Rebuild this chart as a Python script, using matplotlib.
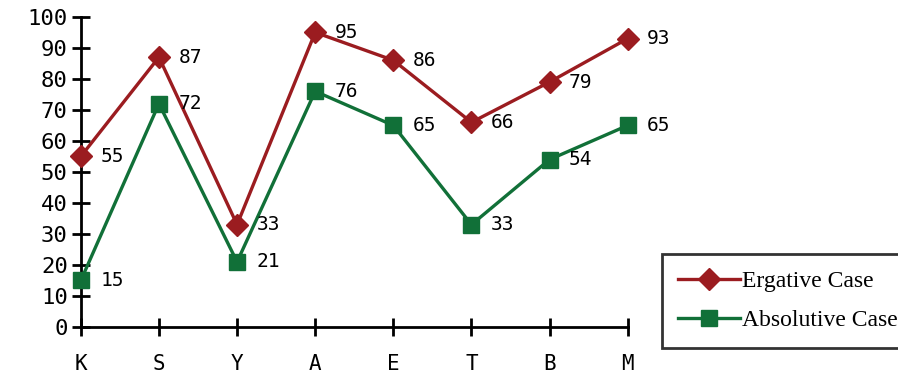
import matplotlib
matplotlib.use('Agg')
import matplotlib.pyplot as plt

# data
letters = ['K', 'S', 'Y', 'A', 'E', 'T', 'B', 'M']
ergative = [55, 87, 33, 95, 86, 66, 79, 93]
absolutive = [15, 72, 21, 76, 65, 33, 54, 65]
y_ticks = [0, 10, 20, 30, 40, 50, 60, 70, 80, 90, 100]

red = '#9b1c20'
green = '#117038'
mono = 'DejaVu Sans Mono'

fig = plt.figure(figsize=(8.98, 3.75), dpi=100)
ax = fig.add_axes([0.090, 0.128, 0.609, 0.827])

x = list(range(len(letters)))
l1, = ax.plot(x, ergative, color=red, lw=2.4, marker='D', ms=11.5,
              label='Ergative Case', clip_on=False, zorder=3)
l2, = ax.plot(x, absolutive, color=green, lw=2.4, marker='s', ms=11.5,
              label='Absolutive Case', clip_on=False, zorder=3)

# value labels to the right of each point
for i in x:
    ax.annotate(str(ergative[i]), (i, ergative[i]), xytext=(14, 0),
                textcoords='offset points', va='center', ha='left',
                fontsize=14, family=mono)
    ax.annotate(str(absolutive[i]), (i, absolutive[i]), xytext=(14, 0),
                textcoords='offset points', va='center', ha='left',
                fontsize=14, family=mono)

ax.set_xlim(0, 7)
ax.set_ylim(0, 100)
ax.set_xticks(x)
ax.set_xticklabels(letters, family=mono, fontsize=15)
ax.set_yticks(y_ticks)
ax.set_yticklabels([str(v) for v in y_ticks], family=mono, fontsize=16)
ax.tick_params(direction='inout', length=13, width=2, pad=3)
ax.tick_params(axis='x', pad=13)

for s in ['top', 'right']:
    ax.spines[s].set_visible(False)
for s in ['left', 'bottom']:
    ax.spines[s].set_linewidth(2)

leg = fig.legend(handles=[l1, l2], loc='upper left',
                 bbox_to_anchor=(0.737, 0.323), frameon=True, fancybox=False,
                 prop={'family': 'Liberation Serif', 'size': 17},
                 handlelength=2.6, handletextpad=0.1, borderpad=0.7,
                 labelspacing=0.75, borderaxespad=0)
leg.get_frame().set_edgecolor('black')
leg.get_frame().set_linewidth(2)

fig.savefig('out.png', dpi=100)
